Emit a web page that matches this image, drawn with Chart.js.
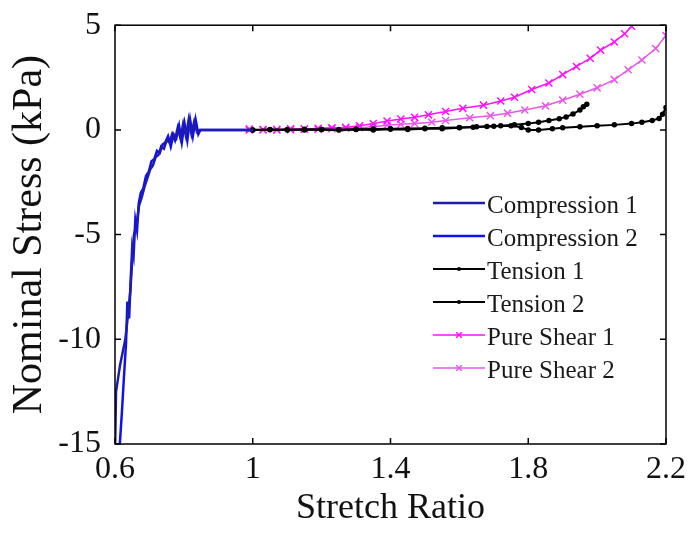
<!DOCTYPE html>
<html>
<head>
<meta charset="utf-8">
<script src="https://cdn.jsdelivr.net/npm/chart.js@4.4.1/dist/chart.umd.min.js"></script>
<style>
  html, body { margin: 0; padding: 0; background: #fff; }
  canvas { display: block; }
</style>
</head>
<body>
<canvas id="stressChart" width="691" height="533"></canvas>
<script>
// ===== Data =====
const xTicks = [0.6, 1.0, 1.4, 1.8, 2.2];
const xTickLabels = ['0.6', '1', '1.4', '1.8', '2.2'];
const yTicks = [-15, -10, -5, 0, 5];
const yTickLabels = ['-15', '-10', '-5', '0', '5'];

const comp1X = [0.600, 0.603, 0.615, 0.630, 0.638, 0.645, 0.650, 0.655, 0.662, 0.670, 0.678, 0.686, 0.694, 0.702, 0.710, 0.718, 0.726, 0.734, 0.742, 0.750, 0.758, 0.766, 0.774, 0.782, 0.790, 0.798, 0.806, 0.814, 0.822, 0.830, 0.838, 0.846, 0.900, 0.950, 1.000];
const comp1Y = [-15.5, -12.5, -11.2, -10.0, -8.8, -7.6, -6.2, -5.0, -4.6, -3.6, -3.2, -2.7, -2.3, -1.9, -1.7, -1.3, -1.2, -0.8, -0.9, -0.5, -0.6, -0.2, -0.5, 0.1, -0.4, 0.3, -0.3, 0.5, -0.2, 0.4, -0.1, 0.0, 0, 0, 0];

const comp2X = [0.612, 0.620, 0.626, 0.632, 0.636, 0.641, 0.646, 0.650, 0.654, 0.659, 0.664, 0.669, 0.675, 0.682, 0.690, 0.698, 0.706, 0.714, 0.722, 0.730, 0.738, 0.746, 0.754, 0.762, 0.770, 0.778, 0.786, 0.794, 0.802, 0.810, 0.818, 0.826, 0.834, 0.842, 0.848, 0.900, 1.000];
const comp2Y = [-15.5, -13.5, -11.8, -10.2, -8.2, -9.0, -7.0, -5.6, -6.0, -4.3, -4.8, -3.5, -3.0, -2.8, -2.2, -2.0, -1.5, -1.4, -1.0, -1.1, -0.7, -0.6, -0.3, -0.8, -0.2, -0.4, 0.2, -0.6, 0.3, -0.5, 0.5, -0.3, 0.5, -0.2, 0.0, 0, 0];

const ten1X = [1.00, 1.05, 1.10, 1.15, 1.20, 1.25, 1.30, 1.35, 1.40, 1.45, 1.50, 1.55, 1.60, 1.64, 1.68, 1.72, 1.76, 1.80, 1.83, 1.86, 1.89, 1.91, 1.93, 1.95, 1.96, 1.97];
const ten1Y = [0, 0.02, 0, 0.03, 0.02, 0.0, 0.02, 0.0, 0.03, 0.02, 0.05, 0.06, 0.10, 0.13, 0.16, 0.20, 0.25, 0.30, 0.37, 0.45, 0.53, 0.62, 0.76, 0.95, 1.10, 1.23];

const ten2X = [1.00, 1.05, 1.10, 1.15, 1.20, 1.25, 1.30, 1.35, 1.40, 1.45, 1.50, 1.55, 1.60, 1.65, 1.70, 1.75, 1.78, 1.80, 1.83, 1.87, 1.90, 1.95, 2.00, 2.05, 2.10, 2.13, 2.16, 2.18, 2.19, 2.20];
const ten2Y = [0, 0.01, 0.02, 0, 0.02, 0.01, 0.03, 0.04, 0.05, 0.07, 0.08, 0.10, 0.12, 0.15, 0.18, 0.20, 0.12, 0.0, 0.0, 0.05, 0.10, 0.15, 0.20, 0.24, 0.30, 0.37, 0.45, 0.55, 0.75, 1.07];

const shear1X = [0.99, 1.03, 1.07, 1.11, 1.15, 1.19, 1.23, 1.27, 1.31, 1.35, 1.39, 1.43, 1.47, 1.51, 1.56, 1.61, 1.67, 1.72, 1.76, 1.81, 1.86, 1.90, 1.94, 1.98, 2.01, 2.05, 2.08, 2.10];
const shear1Y = [0.0, 0.02, 0.0, 0.05, 0.03, 0.08, 0.10, 0.12, 0.20, 0.30, 0.42, 0.52, 0.60, 0.72, 0.88, 1.03, 1.18, 1.38, 1.56, 1.93, 2.24, 2.64, 3.03, 3.42, 3.81, 4.20, 4.59, 4.95];

const shear2X = [0.99, 1.03, 1.07, 1.11, 1.15, 1.19, 1.23, 1.27, 1.31, 1.35, 1.39, 1.43, 1.47, 1.52, 1.56, 1.63, 1.69, 1.74, 1.79, 1.85, 1.90, 1.95, 2.00, 2.05, 2.09, 2.13, 2.17, 2.20];
const shear2Y = [0.05, 0.0, 0.03, 0.0, 0.05, 0.02, 0.05, 0.08, 0.10, 0.15, 0.22, 0.27, 0.31, 0.37, 0.45, 0.58, 0.68, 0.80, 0.95, 1.15, 1.42, 1.70, 2.01, 2.40, 2.87, 3.34, 3.89, 4.50];

const seriesLabels = ['Compression 1', 'Compression 2', 'Tension 1', 'Tension 2', 'Pure Shear 1', 'Pure Shear 2'];

const SERIF = '"Liberation Serif", "Times New Roman", serif';

const toPoints = (xs, ys) => xs.map((x, i) => ({ x: x, y: ys[i] }));

// inward ticks + full box round the plot
const frameTicks = {
  id: 'frameTicks',
  afterDatasetsDraw(chart) {
    const { ctx, chartArea: a, scales } = chart;
    const len = 6;
    ctx.save();
    ctx.strokeStyle = '#000';
    ctx.lineWidth = 1.5;
    ctx.strokeRect(a.left, a.top, a.right - a.left, a.bottom - a.top);
    ctx.beginPath();
    xTicks.forEach(v => {
      const px = scales.x.getPixelForValue(v);
      ctx.moveTo(px, a.bottom); ctx.lineTo(px, a.bottom - len);
      ctx.moveTo(px, a.top); ctx.lineTo(px, a.top + len);
    });
    yTicks.forEach(v => {
      const py = scales.y.getPixelForValue(v);
      ctx.moveTo(a.left, py); ctx.lineTo(a.left + len, py);
      ctx.moveTo(a.right, py); ctx.lineTo(a.right - len, py);
    });
    ctx.stroke();
    ctx.restore();
  }
};

// legend drawn inside the plot, no box
const insideLegend = {
  id: 'insideLegend',
  afterDraw(chart) {
    const ctx = chart.ctx;
    const x0 = 433, x1 = 485, top = 203, step = 33;
    ctx.save();
    ctx.font = '25px ' + SERIF;
    ctx.textBaseline = 'middle';
    ctx.textAlign = 'left';
    chart.data.datasets.forEach((ds, i) => {
      const y = top + i * step;
      ctx.strokeStyle = ds.borderColor;
      ctx.lineWidth = ds.borderWidth;
      ctx.beginPath();
      ctx.moveTo(x0, y); ctx.lineTo(x1, y);
      ctx.stroke();
      if (ds.pointRadius > 0) {
        ctx.fillStyle = ds.borderColor;
        Chart.helpers.drawPoint(ctx, {
          pointStyle: ds.pointStyle,
          radius: ds.pointRadius - 1,
          borderWidth: ds.pointBorderWidth,
          rotation: 0
        }, (x0 + x1) / 2, y);
      }
      ctx.fillStyle = '#1a1a1a';
      ctx.fillText(ds.label, x1 + 2, y + 3);
    });
    ctx.restore();
  }
};

function makeSet(i, xs, ys, color, width, style, radius) {
  return {
    label: seriesLabels[i],
    data: toPoints(xs, ys),
    borderColor: color,
    backgroundColor: color,
    borderWidth: width,
    pointStyle: style,
    pointRadius: radius,
    pointBorderColor: color,
    pointBackgroundColor: color,
    pointBorderWidth: 1.5,
    tension: 0,
    fill: false
  };
}

const ctx = document.getElementById('stressChart').getContext('2d');
const chart = new Chart(ctx, {
  type: 'line',
  data: {
    datasets: [
      makeSet(0, comp1X, comp1Y, '#1c1cb0', 2.5, 'circle', 0),
      makeSet(1, comp2X, comp2Y, '#1010f0', 2.5, 'circle', 0),
      makeSet(2, ten1X, ten1Y, '#000000', 2, 'circle', 2),
      makeSet(3, ten2X, ten2Y, '#000000', 2, 'circle', 2),
      makeSet(4, shear1X, shear1Y, '#ff10ff', 1.5, 'crossRot', 5),
      makeSet(5, shear2X, shear2Y, '#e858e8', 1.5, 'crossRot', 5)
    ]
  },
  options: {
    responsive: false,
    devicePixelRatio: 1,
    animation: false,
    layout: { padding: { left: 0, top: 18, right: 25, bottom: 0 } },
    plugins: {
      legend: { display: false },
      tooltip: { enabled: false }
    },
    scales: {
      x: {
        type: 'linear',
        min: 0.6,
        max: 2.2,
        afterFit: (s) => { s.height = 89; },
        afterBuildTicks: (s) => { s.ticks = xTicks.map(v => ({ value: v })); },
        grid: { display: false },
        border: { display: false },
        ticks: {
          color: '#111',
          font: { family: SERIF, size: 32 },
          padding: -2,
          maxRotation: 0,
          callback: (v, i) => xTickLabels[i]
        },
        title: {
          display: true,
          text: 'Stretch Ratio',
          color: '#111',
          font: { family: SERIF, size: 36 },
          padding: { top: 0, bottom: 3 }
        }
      },
      y: {
        type: 'linear',
        min: -15,
        max: 5,
        afterFit: (s) => { s.width = 115; },
        afterBuildTicks: (s) => { s.ticks = yTicks.map(v => ({ value: v })); },
        grid: { display: false },
        border: { display: false },
        ticks: {
          color: '#111',
          font: { family: SERIF, size: 32 },
          padding: 6,
          callback: (v, i) => yTickLabels[i]
        },
        title: {
          display: true,
          text: 'Nominal Stress (kPa)',
          color: '#111',
          font: { family: SERIF, size: 42 },
          padding: { top: 5, bottom: 0 }
        }
      }
    }
  },
  plugins: [frameTicks, insideLegend]
});
</script>
</body>
</html>
